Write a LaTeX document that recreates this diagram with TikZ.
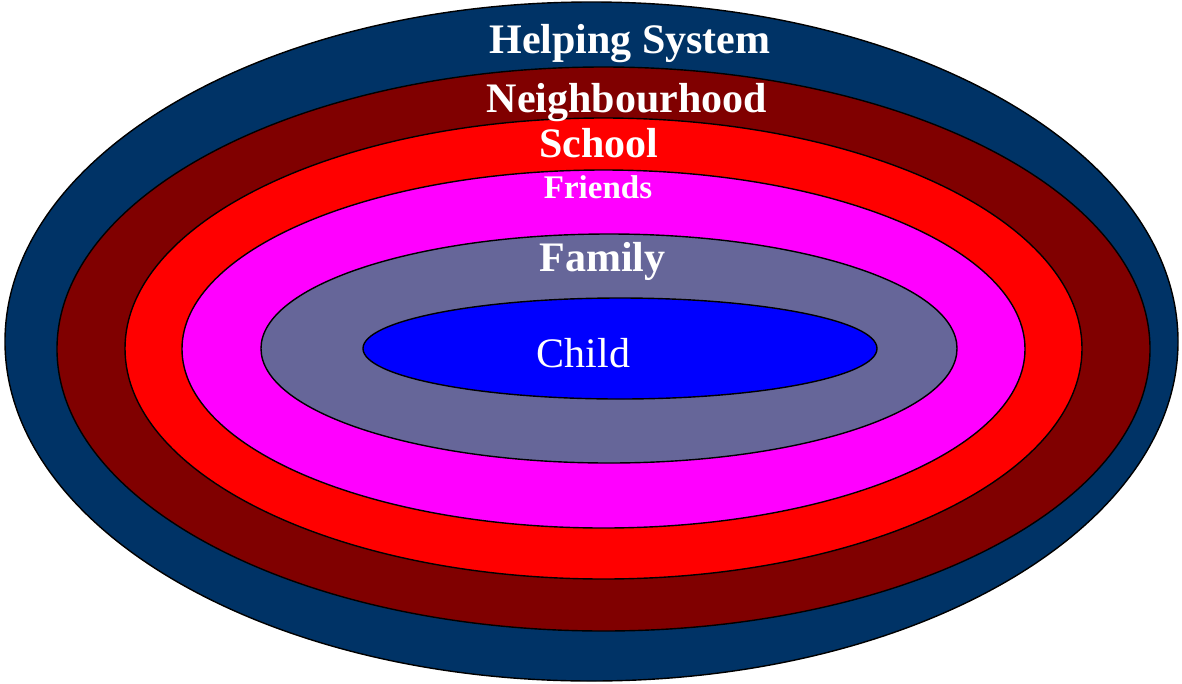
\documentclass[tikz,border=0pt]{standalone}
\usepackage{fontspec}
\setmainfont{Liberation Serif}
\definecolor{helpc}{RGB}{0,51,102}
\definecolor{neighc}{RGB}{128,0,0}
\definecolor{schoolc}{RGB}{255,0,0}
\definecolor{friendc}{RGB}{255,0,255}
\definecolor{famc}{RGB}{102,102,153}
\definecolor{childc}{RGB}{0,0,255}
\begin{document}
\begin{tikzpicture}[x=1pt,y=-1pt,
  ring/.style={draw=black,line width=1.4pt,fill=#1},
  lbl/.style={text=white,anchor=base,inner sep=0pt,font=\fontsize{42}{48}\selectfont\bfseries},
  smalllbl/.style={text=white,anchor=base,inner sep=0pt,font=\fontsize{33}{38}\selectfont\bfseries},
  childlbl/.style={text=white,anchor=base,inner sep=0pt,font=\fontsize{42}{48}\selectfont}]
\useasboundingbox (0,0) rectangle (1182,683);
\path[ring=helpc]   (591.5,341.5) ellipse [x radius=586.5, y radius=339.5];
\path[ring=neighc]  (603.5,349)   ellipse [x radius=546.5, y radius=282];
\path[ring=schoolc] (603.5,348.5) ellipse [x radius=478.5, y radius=230.5];
\path[ring=friendc] (603.5,349)   ellipse [x radius=421.5, y radius=179];
\path[ring=famc]    (609,348.5)   ellipse [x radius=348, y radius=114.5];
\path[ring=childc]  (620,348.5)   ellipse [x radius=257, y radius=50.5];
\node[lbl] (help) at (630,53) {Helping System};
\node[lbl] (neigh) at (627,112) {Neighbourhood};
\node[lbl] (school) at (599,157) {School};
\node[smalllbl] (friends) at (598,198) {Friends};
\node[lbl] (family) at (602.5,271) {Family};
\node[childlbl] (child) at (583.5,367) {Child};
\end{tikzpicture}
\end{document}
